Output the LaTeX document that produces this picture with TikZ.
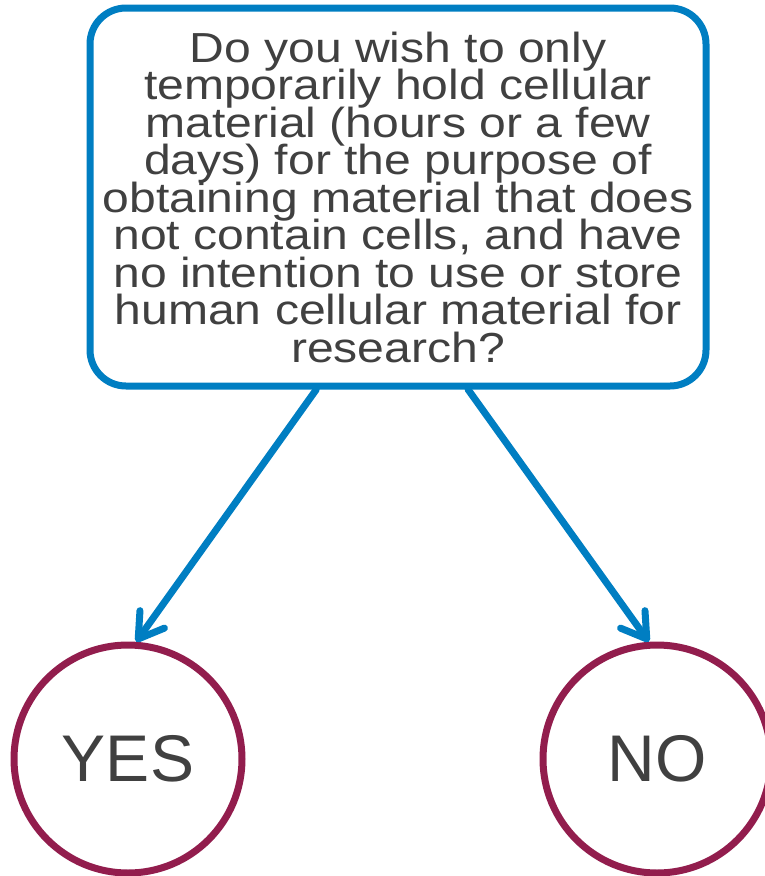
\documentclass[tikz,border=0pt]{standalone}
\usepackage{fontspec}
\setmainfont{Liberation Sans}
\newfontfamily\widesans[FakeStretch=1.145]{Liberation Sans}
\usetikzlibrary{arrows.meta}
\definecolor{qblue}{RGB}{0,126,194}
\definecolor{apurple}{RGB}{146,29,77}
\definecolor{tgray}{RGB}{64,64,64}
\newcommand{\qfont}{\widesans\fontsize{42}{37.5}\selectfont\lineskiplimit=-100pt\relax}
\begin{document}
\begin{tikzpicture}[x=1pt,y=-1pt, line join=round,
            question/.style={draw=qblue,line width=7pt,rounded corners=36pt,
              minimum width=616pt,minimum height=378pt,align=center,text=tgray,
              font=\qfont},
            answer/.style={draw=apurple,line width=7pt,circle,minimum size=228pt,
              inner sep=0pt,text=tgray,font=\fontsize{66}{70}\selectfont},
            link/.style={draw=qblue,line width=7pt,line cap=round,
              -{Straight Barb[length=24pt,width=30pt,round]}}]
            \useasboundingbox (0,0) rectangle (765,876);
            \node[question] (q) at (398,197) {Do you wish to only\\temporarily hold cellular\\material (hours or a few\\days) for the purpose of\\obtaining material that does\\not contain cells, and have\\no intention to use or store\\human cellular material for\\research?};
            \node[answer] (yes) at (128,759) {YES};
            \node[answer] (no) at (657,759) {NO};
            \draw[link] (q.-113.5) -- (yes.86);
            \draw[link] (q.-70) -- (no.94);
        \end{tikzpicture}
\end{document}
